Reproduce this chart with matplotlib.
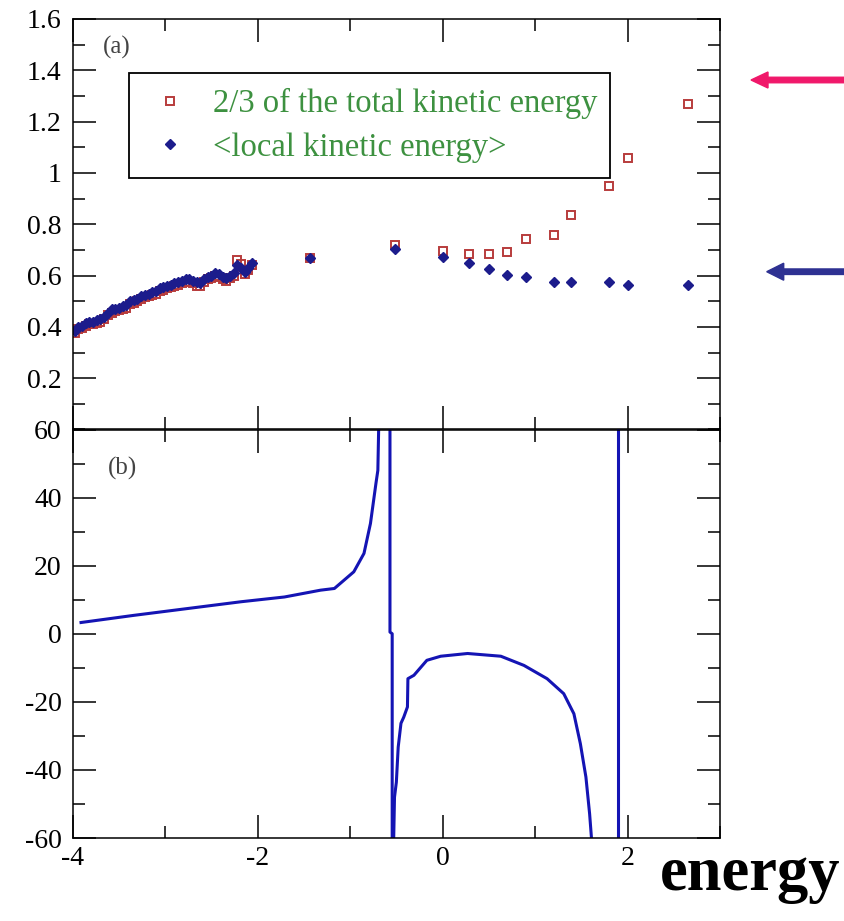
import matplotlib
matplotlib.use('Agg')
import matplotlib.pyplot as plt
from matplotlib.patches import FancyArrow
from matplotlib.ticker import MultipleLocator

# panel (a): kinetic energies vs energy
ke_x = [-3.98, -3.94, -3.90, -3.86, -3.82, -3.78, -3.74, -3.70, -3.66, -3.62,
        -3.58, -3.54, -3.50, -3.46, -3.42, -3.38, -3.34, -3.30, -3.26, -3.22,
        -3.18, -3.14, -3.10, -3.06, -3.02, -2.98, -2.94, -2.90, -2.86, -2.82,
        -2.78, -2.74, -2.70, -2.66, -2.62, -2.58, -2.54, -2.50, -2.46, -2.42,
        -2.38, -2.34, -2.30, -2.26, -2.22, -2.18, -2.14, -2.10, -2.06,
        -1.43, -0.51, 0.0, 0.29, 0.50, 0.70, 0.90, 1.20, 1.39, 1.80, 2.0, 2.65]
total_ke = [0.375, 0.390, 0.395, 0.405, 0.410, 0.410, 0.415, 0.420, 0.430, 0.445,
            0.455, 0.460, 0.465, 0.470, 0.475, 0.490, 0.495, 0.500, 0.510, 0.515,
            0.520, 0.525, 0.530, 0.540, 0.545, 0.550, 0.555, 0.560, 0.565, 0.570,
            0.575, 0.575, 0.570, 0.560, 0.560, 0.575, 0.585, 0.590, 0.600, 0.595,
            0.585, 0.580, 0.590, 0.600, 0.660, 0.645, 0.605, 0.620, 0.640,
            0.670, 0.719, 0.696, 0.683, 0.683, 0.691, 0.742, 0.758, 0.836, 0.949, 1.058, 1.267]
local_ke = [0.385, 0.400, 0.405, 0.415, 0.420, 0.420, 0.425, 0.430, 0.440, 0.455,
            0.470, 0.470, 0.475, 0.480, 0.485, 0.500, 0.505, 0.510, 0.520, 0.525,
            0.530, 0.535, 0.540, 0.550, 0.555, 0.560, 0.565, 0.570, 0.575, 0.580,
            0.585, 0.585, 0.580, 0.575, 0.570, 0.585, 0.595, 0.600, 0.610, 0.605,
            0.595, 0.590, 0.600, 0.610, 0.640, 0.630, 0.615, 0.630, 0.650,
            0.670, 0.703, 0.671, 0.648, 0.624, 0.602, 0.593, 0.574, 0.574, 0.574, 0.563, 0.563]

# panel (b): curve, drawn as separate branches
b1_x = [-3.91, -3.34, -2.76, -2.18, -1.71, -1.32, -1.17, -0.96, -0.85, -0.78, -0.72, -0.70, -0.69]
b1_y = [3.3, 5.4, 7.4, 9.4, 10.8, 12.8, 13.3, 18.2, 23.6, 32.4, 44.3, 48.0, 62.0]
b2_x = [-0.569, -0.569, -0.545, -0.545]
b2_y = [62.0, 0.5, 0.0, -62.0]
b3_x = [-0.53, -0.52, -0.50, -0.48, -0.45, -0.42, -0.38, -0.375, -0.31, -0.17, -0.02,
        0.09, 0.27, 0.63, 0.88, 1.13, 1.31, 1.42, 1.49, 1.55, 1.59, 1.61]
b3_y = [-62.0, -48.0, -43.6, -33.3, -26.3, -24.5, -21.5, -13.2, -12.2, -7.8, -6.6,
        -6.3, -5.8, -6.6, -9.3, -13.2, -17.6, -23.5, -32.3, -42.1, -52.9, -60.0]
b4_x = [1.90, 1.90]
b4_y = [62.0, -62.0]

a_yticks = [0.2, 0.4, 0.6, 0.8, 1.0, 1.2, 1.4, 1.6]
a_ylabels = ['0.2', '0.4', '0.6', '0.8', '1', '1.2', '1.4', '1.6']
b_yticks = [-60, -40, -20, 0, 20, 40, 60]
b_ylabels = ['-60', '-40', '-20', '0', '20', '40', '60']
xticks = [-4, -2, 0, 2]
xlabels = ['-4', '-2', '0', '2']

red = '#b83c3c'
navy = '#1c1c8c'
line_blue = '#1414b4'
green = '#3d9140'

plt.rcParams['font.family'] = ['Liberation Serif', 'DejaVu Serif']

fig = plt.figure(figsize=(8.45, 9.21), dpi=100)
L = 72.7 / 845
W = (720 - 72.7) / 845
ax_a = fig.add_axes([L, 1 - 429.5 / 921, W, (429.5 - 19) / 921])
ax_b = fig.add_axes([L, 1 - 838 / 921, W, (838 - 429.5) / 921])

for ax in (ax_a, ax_b):
    ax.set_xlim(-4, 3)
    ax.xaxis.set_major_locator(MultipleLocator(2))
    ax.xaxis.set_minor_locator(MultipleLocator(1))
    ax.tick_params(which='both', direction='in', top=True, right=True,
                   width=1.1, labelsize=20, colors='black')
    ax.tick_params(which='major', length=16.5)
    ax.tick_params(which='minor', length=8.5)
    ax.tick_params(axis='y', pad=8)
    ax.tick_params(axis='x', pad=6)
    for s in ax.spines.values():
        s.set_linewidth(1.1)

# (a)
sq, = ax_a.plot(ke_x, total_ke, 's', ms=6, mfc='none', mec=red, mew=1.4,
                label='2/3 of the total kinetic energy')
dm, = ax_a.plot(ke_x, local_ke, 'D', ms=5.2, color=navy, mec=navy,
                label='<local kinetic energy>')
ax_a.set_ylim(0, 1.6)
ax_a.yaxis.set_minor_locator(MultipleLocator(0.1))
ax_a.set_yticks(a_yticks)
ax_a.set_yticklabels(a_ylabels)
ax_a.set_xticks(xticks)
ax_a.tick_params(axis='x', labelbottom=False)
ax_a.text(0.047, 0.915, '(a)', transform=ax_a.transAxes, fontsize=18, color='#444444')
leg = ax_a.legend(handles=[sq, dm], loc='upper left', bbox_to_anchor=(0.087, 0.868, 0.743, 0.0),
                  mode='expand', fontsize=23.5, frameon=True, fancybox=False,
                  edgecolor='black', framealpha=1, borderpad=0.46, labelspacing=0.4,
                  handlelength=1.6, handletextpad=0.5, borderaxespad=0)
leg.get_frame().set_linewidth(1.3)
for t in leg.get_texts():
    t.set_color(green)

# (b)
for bx, by in ((b1_x, b1_y), (b2_x, b2_y), (b3_x, b3_y), (b4_x, b4_y)):
    ax_b.plot(bx, by, color=line_blue, lw=2.2)
ax_b.set_ylim(-60, 60)
ax_b.yaxis.set_minor_locator(MultipleLocator(10))
ax_b.set_yticks(b_yticks)
ax_b.set_yticklabels(b_ylabels)
ax_b.set_xticks(xticks)
ax_b.set_xticklabels(xlabels)
ax_b.text(0.055, 0.89, '(b)', transform=ax_b.transAxes, fontsize=18, color='#444444')

# arrows on the right, in inches
fig.add_artist(FancyArrow(8.45, 8.41, -0.94, 0, width=0.055, head_width=0.16,
                          head_length=0.17, length_includes_head=True,
                          color='#f0186a', transform=fig.dpi_scale_trans))
fig.add_artist(FancyArrow(8.45, 6.493, -0.783, 0, width=0.055, head_width=0.17,
                          head_length=0.17, length_includes_head=True,
                          color='#2e3192', transform=fig.dpi_scale_trans))

fig.text(8.40 / 8.45, 1 - 890 / 921, 'energy', ha='right', va='baseline',
         fontsize=45, fontweight='bold', color='black')

fig.savefig('out.png', dpi=100)
